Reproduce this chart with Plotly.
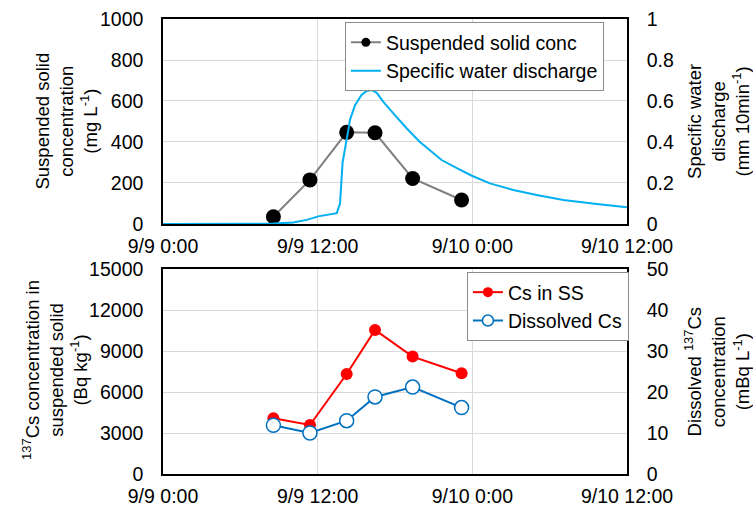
import plotly.graph_objects as go
from plotly.subplots import make_subplots

# ---------------- data ----------------
tick_vals = ["2013-09-09 00:00", "2013-09-09 12:00", "2013-09-10 00:00", "2013-09-10 12:00"]
tick_text = ["9/9 0:00", "9/9 12:00", "9/10 0:00", "9/10 12:00"]

sample_times = ["2013-09-09 08:34", "2013-09-09 11:24", "2013-09-09 14:15",
                "2013-09-09 16:27", "2013-09-09 19:22", "2013-09-09 23:10"]
ss_conc = [35, 215, 447, 445, 222, 117]
cs_in_ss = [4075, 3585, 7320, 10540, 8590, 7370]
dissolved_cs = [11.9, 10.0, 13.0, 18.8, 21.2, 16.2]

discharge_times = [
    "2013-09-09 00:00", "2013-09-09 05:12", "2013-09-09 07:00", "2013-09-09 08:34",
    "2013-09-09 10:06", "2013-09-09 11:09", "2013-09-09 12:03", "2013-09-09 12:42",
    "2013-09-09 13:29", "2013-09-09 13:44", "2013-09-09 13:56", "2013-09-09 14:23",
    "2013-09-09 14:30", "2013-09-09 14:54", "2013-09-09 15:24", "2013-09-09 15:48",
    "2013-09-09 16:11", "2013-09-09 16:35", "2013-09-09 17:05", "2013-09-09 17:52",
    "2013-09-09 18:54", "2013-09-09 19:56", "2013-09-09 20:42", "2013-09-09 21:37",
    "2013-09-09 22:48", "2013-09-10 00:00", "2013-09-10 01:22", "2013-09-10 03:11",
    "2013-09-10 04:59", "2013-09-10 07:04", "2013-09-10 09:39", "2013-09-10 12:00"]
discharge = [0.0, 0.0, 0.001, 0.002, 0.007, 0.02, 0.037, 0.045,
             0.053, 0.10, 0.30, 0.46, 0.507, 0.58, 0.629, 0.649,
             0.654, 0.64, 0.597, 0.54, 0.467, 0.40, 0.36, 0.312,
             0.272, 0.234, 0.198, 0.166, 0.141, 0.117, 0.098, 0.081]

# ---------------- figure ----------------
FONT = "Liberation Sans, Arial, sans-serif"
FS = 19.5      # tick / legend text
FT = 18.5      # axis titles

fig = make_subplots(rows=2, cols=1,
                    specs=[[{"secondary_y": True}], [{"secondary_y": True}]])

# top
fig.add_trace(go.Scatter(x=sample_times, y=ss_conc, mode="lines+markers",
                         line=dict(color="#808080", width=2),
                         marker=dict(color="black", size=15), showlegend=False),
              row=1, col=1, secondary_y=False)
fig.add_trace(go.Scatter(x=discharge_times, y=discharge, name="Specific water discharge",
                         mode="lines", line=dict(color="#00B0F0", width=2),
                         showlegend=False),
              row=1, col=1, secondary_y=True)
# legend entries (smaller symbols, as in the reference legend)
fig.add_trace(go.Scatter(x=[None], y=[None], name="Suspended solid conc",
                         mode="lines+markers", line=dict(color="#808080", width=2),
                         marker=dict(color="black", size=9), legend="legend"),
              row=1, col=1, secondary_y=False)
fig.add_trace(go.Scatter(x=[None], y=[None], name="Specific water discharge",
                         mode="lines", line=dict(color="#00B0F0", width=2),
                         legend="legend"),
              row=1, col=1, secondary_y=True)

# bottom
fig.add_trace(go.Scatter(x=sample_times, y=cs_in_ss, mode="lines+markers",
                         line=dict(color="#FF0000", width=2),
                         marker=dict(color="#FF0000", size=12), showlegend=False),
              row=2, col=1, secondary_y=False)
fig.add_trace(go.Scatter(x=sample_times, y=dissolved_cs, mode="lines+markers",
                         line=dict(color="#0070C0", width=2),
                         marker=dict(color="white", size=14,
                                     line=dict(color="#0070C0", width=1.5)),
                         showlegend=False),
              row=2, col=1, secondary_y=True)
fig.add_trace(go.Scatter(x=[None], y=[None], name="Cs in SS", mode="lines+markers",
                         line=dict(color="#FF0000", width=2),
                         marker=dict(color="#FF0000", size=10), legend="legend2"),
              row=2, col=1, secondary_y=False)
fig.add_trace(go.Scatter(x=[None], y=[None], name="Dissolved Cs", mode="lines+markers",
                         line=dict(color="#0070C0", width=2),
                         marker=dict(color="white", size=11,
                                     line=dict(color="#0070C0", width=1.5)),
                         legend="legend2"),
              row=2, col=1, secondary_y=True)

axis_common = dict(showline=True, linecolor="black", linewidth=1.5, mirror=True,
                   ticks="", tickfont=dict(family=FONT, size=FS, color="black"),
                   zeroline=False, automargin=False)

xrange = ["2013-09-09 00:00", "2013-09-10 12:00"]
for ax in ["xaxis", "xaxis2"]:
    fig.layout[ax].update(range=xrange, tickvals=tick_vals, ticktext=tick_text,
                          showgrid=True, gridcolor="#d9d9d9", gridwidth=1,
                          ticklabelstandoff=4, domain=[0, 1], **axis_common)

fig.update_layout(
    yaxis=dict(domain=[0.5495, 1.0], range=[0, 1000], dtick=200, showgrid=True,
               gridcolor="#d9d9d9", ticklabelstandoff=14, tickformat="d", **axis_common),
    yaxis2=dict(range=[0, 1], dtick=0.2, showgrid=False, ticklabelstandoff=14,
                **axis_common),
    yaxis3=dict(domain=[0.0, 0.4505], range=[0, 15000], dtick=3000, showgrid=True,
                gridcolor="#d9d9d9", ticklabelstandoff=14, tickformat="d", **axis_common),
    yaxis4=dict(range=[0, 50], dtick=10, showgrid=False, ticklabelstandoff=14,
                **axis_common),
)

fig.update_layout(
    width=753, height=506,
    margin=dict(l=163, r=126, t=19, b=32),
    paper_bgcolor="white", plot_bgcolor="white",
    font=dict(family=FONT, size=FS, color="black"),
    legend=dict(x=0.392, y=0.993, xanchor="left", yanchor="top",
                bgcolor="white", bordercolor="#8c8c8c", borderwidth=1,
                font=dict(family=FONT, size=FS), tracegroupgap=0, itemwidth=30),
    legend2=dict(x=0.655, y=0.444, xanchor="left", yanchor="top",
                 bgcolor="white", bordercolor="#8c8c8c", borderwidth=1,
                 font=dict(family=FONT, size=FS), tracegroupgap=0, itemwidth=30),
    showlegend=True,
)

titles = [
    ("Suspended solid<br>concentration<br>(mg L<sup>-1</sup>)", -0.209, 0.7747),
    ("<sup>137</sup>Cs concentration in<br>suspended solid<br>(Bq kg<sup>-1</sup>)", -0.2328, 0.2286),
    ("Specific water<br>discharge<br>(mm 10min<sup>-1</sup>)", 1.196, 0.7758),
    ("Dissolved <sup>137</sup>Cs<br>concentration<br>(mBq L<sup>-1</sup>)", 1.195, 0.2264),
]
for text, x, y in titles:
    fig.add_annotation(text=text, x=x, y=y, xref="paper", yref="paper",
                       xanchor="center", yanchor="middle", textangle=-90,
                       showarrow=False, font=dict(family=FONT, size=FT, color="black"))

fig.write_html("out.html")
